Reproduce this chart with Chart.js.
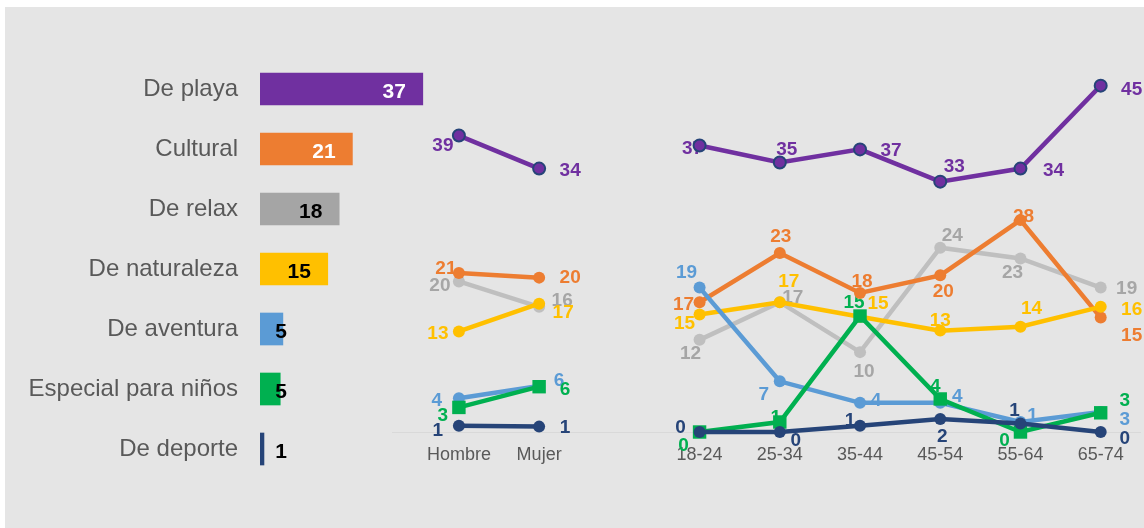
<!DOCTYPE html>
<html>
<head>
<meta charset="utf-8">
<script src="https://cdn.jsdelivr.net/npm/chart.js@4.4.1/dist/chart.umd.min.js"></script>
<style>
  html, body { margin: 0; padding: 0; background: #fff; }
  #wrap { position: relative; width: 1144px; height: 528px; overflow: hidden; }
  #panel { position: absolute; left: 5px; top: 7px; right: 0; bottom: 0; background: #e5e5e5; }
  canvas { position: absolute; left: 0; top: 0; }
</style>
</head>
<body>
<div id="wrap">
  <div id="panel"></div>
  <canvas id="barChart" width="1144" height="528"></canvas>
  <canvas id="lineChart" width="1144" height="528"></canvas>
</div>
<script>
// Tipos de viaje (total)
const tipos = ['De playa', 'Cultural', 'De relax', 'De naturaleza', 'De aventura', 'Especial para niños', 'De deporte'];
const totales = [37, 21, 18, 15.4, 5.2, 4.6, 0.9];

// Por sexo y edad ('' = hueco entre los dos bloques)
const grupos = ['Hombre', 'Mujer', '', '18-24', '25-34', '35-44', '45-54', '55-64', '65-74'];
const playa      = [38.6, 34.3, null, 37.3, 35.1, 36.8, 32.6, 34.3, 45.1];
const cultural   = [20.7, 20.1, null, 16.9, 23.3, 18.1, 20.4, 27.6, 14.9];
const relax      = [19.6, 16.3, null, 12.0, 16.9, 10.4, 24.0, 22.6, 18.8];
const naturaleza = [13.1, 16.7, null, 15.3, 16.9, 15.0, 13.2, 13.7, 16.3];
const aventura   = [4.4, 6.0, null, 18.8, 6.6, 3.8, 3.8, 1.3, 2.6];
const ninos      = [3.2, 5.9, null, 0, 1.3, 15.1, 4.3, 0, 2.5];
const deporte    = [0.8, 0.7, null, 0, 0, 0.8, 1.7, 1.1, 0];

const FONT = "'Liberation Sans', Arial, sans-serif";
const colores = ['#7030A0', '#ED7D31', '#A5A5A5', '#FFC000', '#5B9BD5', '#00B050', '#264478'];
const coloresLinea = ['#7030A0', '#ED7D31', '#BFBFBF', '#FFC000', '#5B9BD5', '#00B050', '#264478'];
const coloresEtiqueta = ['#7030A0', '#ED7D31', '#A6A6A6', '#FFC000', '#5B9BD5', '#00B050', '#264478'];
const coloresValorBarra = ['#fff', '#fff', '#000', '#000', '#000', '#000', '#000'];

// posicion de cada etiqueta respecto a su punto (dx, dy)
const posEtiquetas = [
    [[-16, 9], [31, 1], null, [-7, 2], [7, -14], [31, 0], [14, -16], [33, 1], [31, 3]],
    [[-13, -6], [31, -1], null, [-16, 1], [1, -18], [2, -13], [3, 15], [3, -5], [31, 17]],
    [[-19, 3], [23, -8], null, [-9, 12], [13, -6], [4, 18], [12, -13], [-8, 13], [26, 0]],
    [[-21, 1], [24, 7], null, [-15, 8], [9, -22], [18, -15], [0, -11], [11, -20], [31, 1]],
    [[-22, 1], [20, -7], null, [-13, -16], [-16, 12], [16, -4], [17, -8], [12, -8], [24, 6]],
    [[-16, 7], [26, 2], null, [-16, 12], [-4, -6], [-6, -15], [-5, -14], [-16, 7], [24, -14]],
    [[-21, 3], [26, 0], null, [-19, -6], [16, 7], [-10, -7], [2, 16], [-6, -14], [24, 5]],
];

// Etiquetas de valor en las barras
const barLabels = {
    id: 'barLabels',
    afterDatasetsDraw(chart) {
        const ctx = chart.ctx;
        const meta = chart.getDatasetMeta(0);
        ctx.save();
        ctx.font = 'bold 21px ' + FONT;
        ctx.textAlign = 'center';
        ctx.textBaseline = 'alphabetic';
        meta.data.forEach((bar, i) => {
            const x = Math.max(bar.x - 28.5, bar.base + 21);
            ctx.fillStyle = coloresValorBarra[i];
            ctx.fillText(Math.round(totales[i]), x, bar.y + 8.5);
        });
        ctx.restore();
    }
};

new Chart(document.getElementById('barChart'), {
    type: 'bar',
    data: {
        labels: tipos,
        datasets: [{ data: totales, backgroundColor: colores, barThickness: 32 }],
    },
    options: {
        indexAxis: 'y',
        responsive: false,
        animation: false,
        layout: { autoPadding: false, padding: { left: 0, top: 59, bottom: 49, right: 444 } },
        plugins: { legend: { display: false }, tooltip: { enabled: false } },
        scales: {
            x: { display: false, min: 0, max: 100 },
            y: {
                grid: { display: false, drawTicks: false },
                border: { display: false },
                ticks: { color: '#595959', font: { family: FONT, size: 24 }, padding: 22 },
                afterFit: s => { s.width = 260; },
            },
        },
    },
    plugins: [barLabels],
});

// Etiquetas de las lineas (debajo de las lineas)
const lineLabels = {
    id: 'lineLabels',
    beforeDatasetsDraw(chart) {
        const ctx = chart.ctx;
        ctx.save();
        ctx.font = 'bold 19px ' + FONT;
        ctx.textAlign = 'center';
        ctx.textBaseline = 'alphabetic';
        chart.data.datasets.forEach((ds, d) => {
            const meta = chart.getDatasetMeta(d);
            meta.data.forEach((pt, i) => {
                const v = ds.data[i].y;
                const off = posEtiquetas[d][i];
                if (v === null || !off) return;
                ctx.fillStyle = coloresEtiqueta[d];
                ctx.fillText(Math.round(v), pt.x + off[0], pt.y + off[1] + 6.8);
            });
        });
        ctx.restore();
    }
};

const series = [playa, cultural, relax, naturaleza, aventura, ninos, deporte];
const orden = [1, 5, 6, 4, 3, 2, 0];

const datasets = series.map((vals, d) => ({
    label: tipos[d],
    data: vals.map((v, i) => ({ x: i, y: v })),
    borderColor: coloresLinea[d],
    backgroundColor: coloresLinea[d],
    borderWidth: 4.5,
    pointStyle: d === 5 ? 'rect' : 'circle',
    pointRadius: d === 5 ? 9.5 : 6,
    pointBackgroundColor: coloresLinea[d],
    pointBorderColor: d === 0 ? '#264478' : coloresLinea[d],
    pointBorderWidth: d === 0 ? 2 : 0,
    spanGaps: false,
    clip: false,
    order: orden[d],
}));

new Chart(document.getElementById('lineChart'), {
    type: 'line',
    data: { datasets },
    options: {
        responsive: false,
        animation: false,
        layout: { autoPadding: false, padding: { left: 392, right: 4, top: 48, bottom: 56 } },
        plugins: { legend: { display: false }, tooltip: { enabled: false } },
        scales: {
            x: {
                type: 'linear',
                min: -0.834,
                max: 8.49,
                afterBuildTicks: s => {
                    s.ticks = grupos.map((g, i) => ({ value: i })).filter(t => grupos[t.value] !== '');
                },
                ticks: {
                    callback: v => grupos[v],
                    color: '#595959',
                    font: { family: FONT, size: 18 },
                    padding: 12,
                    autoSkip: false,
                    maxRotation: 0,
                },
                grid: { display: false, drawTicks: false },
                border: { display: true, color: '#D9D9D9', width: 1 },
                afterFit: s => { s.height = 40; },
            },
            y: { display: false, min: 0, max: 50 },
        },
    },
    plugins: [lineLabels],
});
</script>
</body>
</html>
